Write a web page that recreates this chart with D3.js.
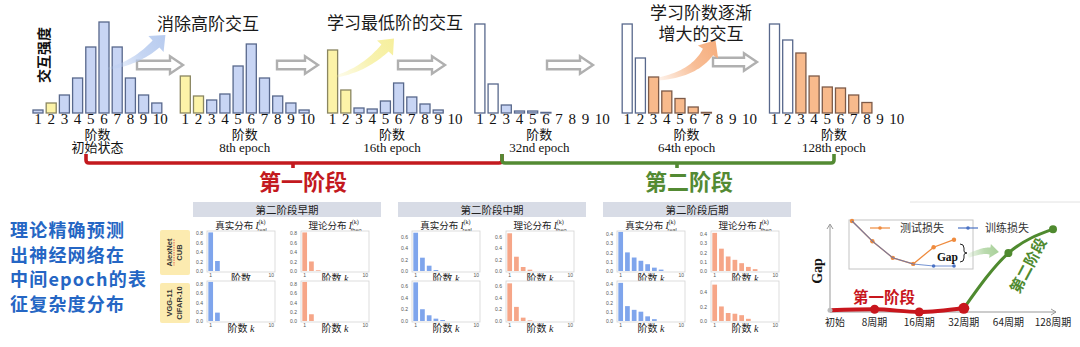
<!DOCTYPE html>
<html><head><meta charset="utf-8">
<script src="https://cdn.jsdelivr.net/npm/d3@7"></script>
<style>body{margin:0;background:#fff}svg{display:block}</style>
</head><body><svg id="c" width="1080" height="347"></svg>
<script>
// ---------- data ----------
const orders = [1,2,3,4,5,6,7,8,9,10];
const epochLabels = ["初始状态","8th epoch","16th epoch","32nd epoch","64th epoch","128th epoch"];
// interaction strength per order at each snapshot
const stInit = [3,10,18,35,66,91,66,35,18,10];
const st8    = [37,17,13,19,47,69,35,17,10,3];
const st16   = [63,23,5,4,12,30,16,9,3,0];
const st32   = [89,29,8,2,2,0.6,0,0,0,0];
const st64   = [89,55,36,22,14.5,6,0.6,0,0,0];
const st128  = [89,73,60,37,26,25,18,10.5,0,0];
// bar kind per order: b = not yet learned, y = low-order, w = learned, o = being learned
const kindInit = ["b","y","b","b","b","b","b","b","b","b"];
const kind8    = ["y","y","b","b","b","b","b","b","b","b"];
const kind16   = ["y","y","b","b","b","b","b","b","b","b"];
const kind32   = ["w","w","b","b","b","b","b","b","b","b"];
const kind64   = ["w","w","o","o","o","o","o","o","o","o"];
const kind128  = ["w","w","o","o","o","o","o","o","o","o"];
const annotations = ["消除高阶交互","学习最低阶的交互","学习阶数逐渐","增大的交互"];
const stageNames = ["第一阶段","第二阶段"];

// small multiples: real / theoretical distribution over order k
const miniGroups = ["第二阶段早期","第二阶段中期","第二阶段后期"];
const miniModels = [["AlexNet","CUB"],["VGG-11","CIFAR-10"]];
const miniCols = ["真实分布","理论分布"];
const miniSubs = ["real","theo"];
const realEarlyAlex = [0.81,0.21];
const theoEarlyAlex = [0.81,0.2,0.014];
const realEarlyVgg  = [0.84,0.18];
const theoEarlyVgg  = [0.84,0.145];
const realMidAlex = [0.67,0.233,0.093,0.017];
const theoMidAlex = [0.66,0.25,0.07,0.023];
const realMidVgg  = [0.657,0.2,0.097,0.04,0.017];
const theoMidVgg  = [0.64,0.24,0.057,0.01];
const realLateAlex = [0.42,0.2,0.145,0.11,0.073,0.036,0.015];
const theoLateAlex = [0.41,0.24,0.156,0.12,0.084,0.044,0.02];
const realLateVgg  = [0.41,0.16,0.12,0.1,0.05,0.02];
const theoLateVgg  = [0.5,0.2,0.11,0.1,0.08,0.03];
const miniYMax = [[[0.84,0.84],[0.86,0.86]],[[0.7,0.7],[0.68,0.68]],[[0.43,0.43],[0.43,0.55]]];
const miniTicks = [
  [[[0,0.2,0.4,0.6,0.8],[0,0.2,0.4,0.6,0.8]],[[0,0.2,0.4,0.6,0.8],[0,0.2,0.4,0.6,0.8]]],
  [[[0,0.2,0.4,0.6],[0,0.2,0.4,0.6]],[[0,0.2,0.4,0.6],[0,0.2,0.4,0.6]]],
  [[[0,0.1,0.2,0.3,0.4],[0,0.1,0.2,0.3,0.4]],[[0,0.1,0.2,0.3,0.4],[0,0.2,0.4]]]
];

// generalization gap over training
const gapEpochs = ["初始","8周期","16周期","32周期","64周期","128周期"];
const gapValues = [0.02,0.03,0.0,0.04,0.64,0.9];
const testLoss  = [1.0,0.6,0.27,0.15,0.48,0.63];
const trainLoss = [1.0,0.6,0.27,0.15,0.11,0.11];
const lossLegend = ["测试损失","训练损失"];
const sideText = ["理论精确预测","出神经网络在","中间epoch的表","征复杂度分布"];

// ---------- drawing ----------
const CJK = "'Noto Sans CJK SC','Noto Sans',sans-serif";
const SERIF = "'Liberation Serif','DejaVu Serif',serif";
const svg = d3.select("#c");
const defs = svg.append("defs");

const fills = {b:"#c8d5f4", y:"#fcf3a8", w:"#ffffff", o:"#f8ba8c"};
const strokes = {b:"#58688c", y:"#8a8660", w:"#58688c", o:"#7d5a48"};

const snapshots = [
  [stInit,kindInit],[st8,kind8],[st16,kind16],[st32,kind32],[st64,kind64],[st128,kind128]
];
const yTop = d3.scaleLinear().domain([0,100]).range([113,13]);
snapshots.forEach(([vals,kinds],i) => {
  const x0 = 31.4 + i*147.3;
  const x = d3.scaleBand().domain(orders).range([x0, x0+132]).paddingInner(0.24).paddingOuter(0.12);
  const g = svg.append("g");
  g.selectAll("rect").data(orders.filter((o,j)=>vals[j]>0)).join("rect")
    .attr("x", d=>x(d)).attr("width", x.bandwidth())
    .attr("y", d=>yTop(vals[d-1])).attr("height", d=>yTop(0)-yTop(vals[d-1]))
    .attr("fill", d=>fills[kinds[d-1]]).attr("stroke", d=>strokes[kinds[d-1]]).attr("stroke-width",1.3);
  const ax = g.append("g").attr("transform","translate(0,113)")
    .call(d3.axisBottom(x).tickSize(0).tickPadding(0));
  ax.select(".domain").remove();
  ax.selectAll("text").attr("font-family",SERIF).attr("font-size",15).attr("fill","#111")
    .attr("dx", d=>d===10?"3.5":"0");
  const cx = x0 + 66;
  g.append("text").attr("x",cx).attr("y",139).attr("text-anchor","middle")
    .attr("font-family",CJK).attr("font-size",13).attr("fill","#111").text("阶数");
  g.append("text").attr("x",cx).attr("y",152).attr("text-anchor","middle")
    .attr("font-family", i===0?CJK:SERIF).attr("font-size",13).attr("fill","#111").text(epochLabels[i]);
});

svg.append("text").attr("transform","translate(49,55) rotate(-90)").attr("text-anchor","middle")
  .attr("font-family",CJK).attr("font-size",14).attr("font-weight",600).attr("fill","#111").text("交互强度");

// hollow grey arrows between snapshots
function hollowArrow(xa, xb, y){
  const sh=4.3, hh=8.8, hl=13;
  const pts=[[xa,y-sh],[xb-hl,y-sh],[xb-hl,y-hh],[xb,y],[xb-hl,y+hh],[xb-hl,y+sh],[xa,y+sh]];
  svg.append("path").attr("d","M"+pts.map(p=>p.join(",")).join("L")+"Z")
    .attr("fill","#fff").attr("stroke","#b0b0b0").attr("stroke-width",2.4).attr("stroke-linejoin","miter");
}
hollowArrow(137,183,65); hollowArrow(277,318,65); hollowArrow(398,445,65);
hollowArrow(547,593,65); hollowArrow(713,757,62);

// curved gradient arrows
let gradId = 0;
function curvedArrow(p0, c, p1, w0, w1, headW, headL, color){
  const id = "ga"+(gradId++);
  const t = [p1[0]-c[0], p1[1]-c[1]]; const tl = Math.hypot(t[0],t[1]);
  const u = [t[0]/tl, t[1]/tl]; const nrm = [-u[1], u[0]];
  const tip = [p1[0]+u[0]*headL, p1[1]+u[1]*headL];
  const lg = defs.append("linearGradient").attr("id",id).attr("gradientUnits","userSpaceOnUse")
    .attr("x1",p0[0]).attr("y1",p0[1]).attr("x2",tip[0]).attr("y2",tip[1]);
  lg.append("stop").attr("offset",0).attr("stop-color",color).attr("stop-opacity",0.15);
  lg.append("stop").attr("offset",0.55).attr("stop-color",color).attr("stop-opacity",0.8);
  lg.append("stop").attr("offset",1).attr("stop-color",color).attr("stop-opacity",1);
  const L=[], R=[]; const N=24;
  for(let k=0;k<=N;k++){
    const s=k/N, a=(1-s)*(1-s), b=2*(1-s)*s, d=s*s;
    const px=a*p0[0]+b*c[0]+d*p1[0], py=a*p0[1]+b*c[1]+d*p1[1];
    const dx=2*(1-s)*(c[0]-p0[0])+2*s*(p1[0]-c[0]), dy=2*(1-s)*(c[1]-p0[1])+2*s*(p1[1]-c[1]);
    const dl=Math.hypot(dx,dy), nx=-dy/dl, ny=dx/dl, w=(w0+(w1-w0)*s)/2;
    L.push([px+nx*w,py+ny*w]); R.push([px-nx*w,py-ny*w]);
  }
  const head=[[p1[0]+nrm[0]*headW,p1[1]+nrm[1]*headW], tip, [p1[0]-nrm[0]*headW,p1[1]-nrm[1]*headW]];
  const pts=[...L, ...head, ...R.reverse()];
  svg.append("path").attr("d","M"+pts.map(p=>p.map(v=>v.toFixed(1)).join(",")).join("L")+"Z")
    .attr("fill",`url(#${id})`);
}
curvedArrow([107,69],[136,63],[156,44],2,10,11,13,"#b7cbef");
curvedArrow([334,77],[364,70],[385,48],2,10,11,13,"#f6ef9c");
curvedArrow([658,79],[694,74],[708,52],3,12,12,14,"#f6ad7c");

// annotation text
const annStyle = s => s.attr("font-family",CJK).attr("font-size",17).attr("fill","#1a1a1a");
svg.append("text").attr("x",157).attr("y",30).text(annotations[0]).call(annStyle);
svg.append("text").attr("x",327).attr("y",29).text(annotations[1]).call(annStyle);
svg.append("text").attr("x",701).attr("y",19).attr("text-anchor","middle").text(annotations[2]).call(annStyle);
svg.append("text").attr("x",701).attr("y",40).attr("text-anchor","middle").text(annotations[3]).call(annStyle);

// stage brackets
function bracket(xa, xm, xb, color){
  const y=163;
  svg.append("path").attr("d",
    `M${xa},154 L${xa},${y-3} Q${xa},${y} ${xa+3},${y} L${xm},${y} L${xm},168 M${xm},${y} L${xb-3},${y} Q${xb},${y} ${xb},${y-3} L${xb},154`)
    .attr("fill","none").attr("stroke",color).attr("stroke-width",3.6);
}
bracket(86,293,502,"#c3191e");
bracket(502,677,834,"#538a33");
svg.append("text").attr("x",303).attr("y",190).attr("text-anchor","middle").attr("font-family",CJK)
  .attr("font-size",22).attr("font-weight",700).attr("fill","#c3191e").text(stageNames[0]);
svg.append("text").attr("x",689).attr("y",190).attr("text-anchor","middle").attr("font-family",CJK)
  .attr("font-size",22).attr("font-weight",700).attr("fill","#538a33").text(stageNames[1]);

// side statement
svg.append("g").selectAll("text").data(sideText).join("text")
  .attr("x",10).attr("y",(d,i)=>237+i*24.5)
  .attr("font-family",CJK).attr("font-size",18).attr("font-weight",700).attr("letter-spacing",1.2)
  .attr("fill","#2566c4").text(d=>d);

// ---------- small multiples ----------
const groupX = [193,398,603];
const colOff = [14,108], colW = 68;
const rowY = [231,281], rowH = 41;
const miniData = [
  [[realEarlyAlex,theoEarlyAlex],[realEarlyVgg,theoEarlyVgg]],
  [[realMidAlex,theoMidAlex],[realMidVgg,theoMidVgg]],
  [[realLateAlex,theoLateAlex],[realLateVgg,theoLateVgg]]
];
// model labels
miniModels.forEach((m,r)=>{
  const y0 = r===0?230:283, h = r===0?45:40;
  svg.append("rect").attr("x",160).attr("y",y0).attr("width",30).attr("height",h).attr("rx",2).attr("fill","#fcebb0");
  const cy = y0+h/2;
  m.forEach((t,j)=>{
    svg.append("text").attr("transform",`translate(${172+j*10},${cy}) rotate(-90)`).attr("text-anchor","middle")
      .attr("font-family","'Liberation Sans',Arial,sans-serif").attr("font-size",7.5).attr("font-weight",700)
      .attr("fill","#333").text(t);
  });
  if(r===0) svg.append("line").attr("x1",174).attr("x2",174).attr("y1",cy-13).attr("y2",cy+13)
    .attr("stroke","#e04040").attr("stroke-width",0.8).attr("stroke-dasharray","1.5,1");
});
miniGroups.forEach((gname,gi)=>{
  const gx = groupX[gi];
  svg.append("rect").attr("x",gx).attr("y",202).attr("width",188).attr("height",15).attr("fill","#d8dce6");
  svg.append("text").attr("x",gx+94).attr("y",213.5).attr("text-anchor","middle").attr("font-family",CJK)
    .attr("font-size",10.5).attr("fill","#222").text(gname);
  miniCols.forEach((cname,ci)=>{
    const fx = gx+colOff[ci];
    const title = svg.append("text").attr("x",fx+colW/2).attr("y",229).attr("text-anchor","middle")
      .attr("font-family",CJK).attr("font-size",9.5).attr("fill","#222");
    title.append("tspan").text(cname+" ");
    title.append("tspan").attr("font-family",SERIF).attr("font-style","italic").text("I");
    title.append("tspan").attr("font-family",SERIF).attr("font-size",6).attr("dy",-5).text("(k)");
    title.append("tspan").attr("font-family","'Liberation Sans',sans-serif").attr("font-size",5.5).attr("dx",-8).attr("dy",8).text(miniSubs[ci]);
    rowY.forEach((fy,ri)=>{
      const vals = miniData[gi][ri][ci];
      const g = svg.append("g");
      g.append("rect").attr("x",fx).attr("y",fy).attr("width",colW).attr("height",rowH)
        .attr("fill","#fff").attr("stroke","#d4d4d4").attr("stroke-width",0.8);
      const x = d3.scaleBand().domain(orders).range([fx+1,fx+colW-1]).paddingInner(0.3).paddingOuter(0.05);
      const y = d3.scaleLinear().domain([0,miniYMax[gi][ri][ci]]).range([fy+rowH-1,fy]);
      g.selectAll("rect.b").data(vals).join("rect").attr("class","b")
        .attr("x",(d,i)=>x(orders[i])).attr("width",x.bandwidth())
        .attr("y",d=>y(d)).attr("height",d=>y(0)-y(d))
        .attr("fill",ci===0?"#7fa5ec":"#f6a688");
      const ya = g.append("g").attr("transform",`translate(${fx},0)`)
        .call(d3.axisLeft(y).tickValues(miniTicks[gi][ri][ci]).tickFormat(d3.format(".1f")).tickSize(0).tickPadding(4));
      ya.select(".domain").remove();
      ya.selectAll("text").attr("font-size",5).attr("fill","#555").attr("font-family","'Liberation Sans',sans-serif");
      const xa = g.append("g").attr("transform",`translate(0,${fy+rowH})`)
        .call(d3.axisBottom(x).tickValues([1,10]).tickSize(0).tickPadding(1.5));
      xa.select(".domain").remove();
      xa.selectAll("text").attr("font-size",5).attr("fill","#555").attr("font-family","'Liberation Sans',sans-serif");
      const xl = g.append("text").attr("x",fx+colW/2).attr("y",fy+rowH+9.5).attr("text-anchor","middle")
        .attr("font-family",CJK).attr("font-size",10).attr("fill","#222");
      xl.append("tspan").text("阶数");
      if(!(gi===0 && ri===0 && ci===0)) xl.append("tspan").attr("font-family",SERIF).attr("font-style","italic").text(" k");
    });
  });
});

// ---------- generalization gap chart ----------
svg.append("line").attr("x1",910).attr("x2",1080).attr("y1",202).attr("y2",202).attr("stroke","#e2e2e2").attr("stroke-width",1);
const gx = d3.scalePoint().domain(gapEpochs).range([830,1053]);
const gy = d3.scaleLinear().domain([0,1]).range([312,220]);
svg.append("path").attr("d","M830,312 L830,225 M827,229 L830,224 L833,229").attr("fill","none").attr("stroke","#999").attr("stroke-width",1);
svg.append("path").attr("d","M830,312 L1056,312 M1051,309 L1056,312 L1051,315").attr("fill","none").attr("stroke","#999").attr("stroke-width",1);
svg.append("text").attr("transform","translate(822,271) rotate(-90)").attr("text-anchor","middle")
  .attr("font-family",SERIF).attr("font-weight",700).attr("font-size",14).attr("fill","#111").text("Gap");
svg.append("g").selectAll("text").data(gapEpochs).join("text")
  .attr("x",(d,i)=>gx(d)+(i===0?5:0)).attr("y",326).attr("text-anchor","middle")
  .attr("font-family",CJK).attr("font-size",10).attr("fill","#222").text(d=>d);

const gline = d3.line().x(d=>gx(d.e)).y(d=>gy(d.v)).curve(d3.curveMonotoneX);
const gapPts = gapEpochs.map((e,i)=>({e,v:gapValues[i]}));
const stage1 = gapPts.slice(0,4), stage2 = gapPts.slice(3);
svg.append("path").attr("d",gline(stage2)).attr("fill","none").attr("stroke","#4f8a2f").attr("stroke-width",3);
svg.append("g").selectAll("circle").data(stage2.slice(1)).join("circle")
  .attr("cx",d=>gx(d.e)).attr("cy",d=>gy(d.v)).attr("r",4).attr("fill","#4f8a2f");
svg.append("path").attr("d",gline(stage1)).attr("fill","none").attr("stroke","#c8161d").attr("stroke-width",4);
svg.append("g").selectAll("circle").data(stage1.slice(1)).join("circle")
  .attr("cx",d=>gx(d.e)).attr("cy",d=>gy(d.v)).attr("r",(d,i)=>i===2?5.5:4.5).attr("fill","#c8161d");
svg.append("circle").attr("cx",gx(gapEpochs[0])).attr("cy",gy(gapValues[0])).attr("r",2.5).attr("fill","#bbb");

svg.append("text").attr("x",884).attr("y",303).attr("text-anchor","middle").attr("font-family",CJK)
  .attr("font-size",15.5).attr("font-weight",700).attr("fill","#c8161d").text(stageNames[0]);
svg.append("text").attr("transform","translate(1033,268) rotate(-62)").attr("text-anchor","middle")
  .attr("font-family",CJK).attr("font-size",15).attr("font-weight",700).attr("fill","#4f8a2f").text(stageNames[1]);

// inset: train / test loss
svg.append("rect").attr("x",849).attr("y",220).attr("width",124).attr("height",49)
  .attr("fill","#fff").attr("stroke","#c4c4c4").attr("stroke-width",1);
const lx = d3.scalePoint().domain(gapEpochs).range([852,954]);
const ly = d3.scaleLinear().domain([0,1]).range([271.5,221]);
const lline = d3.line().x((d,i)=>lx(gapEpochs[i])).y(d=>ly(d));
svg.append("path").attr("d",lline(testLoss)).attr("fill","none").attr("stroke","#ef8b3e").attr("stroke-width",1.3);
svg.append("g").selectAll("circle").data(testLoss).join("circle")
  .attr("cx",(d,i)=>lx(gapEpochs[i])).attr("cy",d=>ly(d)).attr("r",2.2).attr("fill","#ef8b3e");
svg.append("path").attr("d",lline(trainLoss)).attr("fill","none").attr("stroke","#4a72c4").attr("stroke-width",1.1).attr("stroke-opacity",0.75);
svg.append("g").selectAll("circle").data(trainLoss.slice(4)).join("circle")
  .attr("cx",(d,i)=>lx(gapEpochs[i+4])).attr("cy",d=>ly(d)).attr("r",1.8).attr("fill","#4a72c4");
// legend
[["#ef8b3e",870,900],["#4a72c4",958,985]].forEach(([c,x1,tx],i)=>{
  svg.append("line").attr("x1",x1).attr("x2",x1+20).attr("y1",228).attr("y2",228).attr("stroke",c).attr("stroke-width",1.2);
  svg.append("circle").attr("cx",x1+10).attr("cy",228).attr("r",1.8).attr("fill",c);
  svg.append("text").attr("x",tx).attr("y",232).attr("font-family",CJK).attr("font-size",11).attr("fill","#333").text(lossLegend[i]);
});
svg.append("path").attr("d","M960,244 Q964,244 964,248 L964,251 Q964,253 967,253 Q964,253 964,255 L964,258 Q964,262 960,262")
  .attr("fill","none").attr("stroke","#222").attr("stroke-width",1);
svg.append("text").attr("x",958).attr("y",261).attr("text-anchor","end").attr("font-family",SERIF)
  .attr("font-weight",700).attr("font-size",11.5).attr("fill","#111").text("Gap");
curvedArrow([968,256],[982,250],[990,251],4,7,7,9,"#a9d19a");
</script></body></html>
